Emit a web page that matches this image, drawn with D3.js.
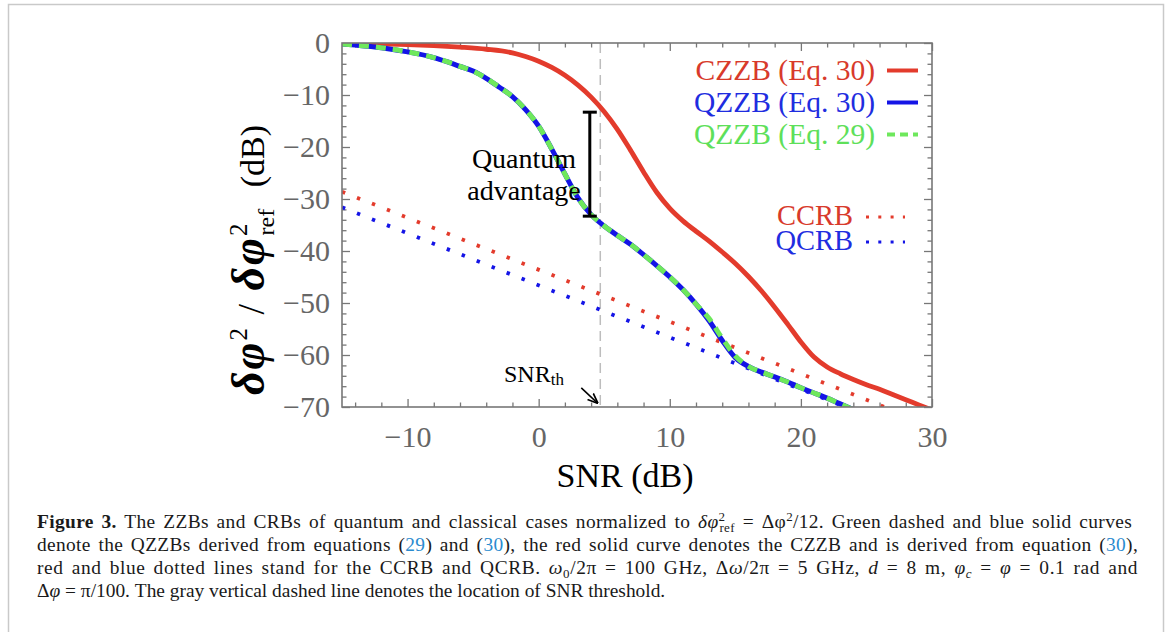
<!DOCTYPE html>
<html><head><meta charset="utf-8">
<script src="https://cdn.jsdelivr.net/npm/d3@7"></script>
<style>body{margin:0;background:#fff} svg{display:block}</style>
</head><body><svg id="c" width="1168" height="632"></svg>
<script>
// ---- data ----
const czzbSNR = [-15,-12,-10,-8,-6,-4,-2,-1,0,1,2,3,4,5,6,7,8,9,10,11,12,13,14,15,16,17,18,19,20,21,22,23,24,25,26,27,28,29,30];
const czzb    = [-0.1,-0.2,-0.3,-0.5,-0.8,-1.2,-1.9,-2.6,-3.5,-4.7,-6.2,-8.1,-10.4,-13.2,-16.6,-20.6,-24.8,-28.7,-31.8,-34.2,-36.2,-38.1,-40.2,-42.4,-44.9,-47.7,-50.8,-54.1,-57.5,-60.4,-62.3,-63.6,-64.7,-65.7,-66.6,-67.6,-68.6,-69.6,-70.6];
const qzzbSNR = [-15,-14,-12,-10,-8,-7,-6,-5,-4,-3,-2,-1,0,1,2,3,4,5,6,7,8,9,10,11,12,13,14,15,16,17,18,19,20,21,22,23,24];
const qzzb30  = [-0.2,-0.4,-0.9,-1.7,-2.8,-3.6,-4.5,-5.4,-6.8,-8.5,-10.3,-12.8,-16.0,-20.4,-25.2,-29.8,-33.0,-35.2,-37.0,-38.7,-40.7,-42.8,-45.0,-47.4,-50.2,-53.4,-57.2,-60.5,-62.2,-63.3,-64.2,-65.2,-66.3,-67.3,-68.3,-69.4,-70.5];
const qzzb29  = [-0.2,-0.4,-0.9,-1.7,-2.8,-3.6,-4.5,-5.4,-6.8,-8.5,-10.3,-12.8,-16.0,-20.4,-25.2,-29.8,-33.0,-35.2,-37.0,-38.7,-40.7,-42.8,-45.0,-47.4,-50.2,-53.0,-56.8,-60.2,-62.2,-63.3,-64.2,-65.2,-66.3,-67.3,-68.3,-69.4,-70.5];
const crbSNR  = [-15, 30];
const ccrb    = [-28.6, -73.6];
const qcrb    = [-31.6, -76.6];
const snrTh   = 4.7;
const advantage = {snr: 3.9, top: -13.3, bottom: -33.3};
const xMajor = [-10, 0, 10, 20, 30];
const xMinor = [-14,-12,-8,-6,-4,-2,2,4,6,8,12,14,16,18,22,24,26,28];
const yMajor = [-70,-60,-50,-40,-30,-20,-10,0];
const yMinor = [-68,-66,-64,-62,-58,-56,-54,-52,-48,-46,-44,-42,-38,-36,-34,-32,-28,-26,-24,-22,-18,-16,-14,-12,-8,-6,-4,-2];
const legendZZB = ["CZZB (Eq. 30)", "QZZB (Eq. 30)", "QZZB (Eq. 29)"];
const legendCRB = ["CCRB", "QCRB"];

// ---- styles ----
const RED = "#e33b2c", BLUE = "#1414e6", GREEN = "#6ee85c";
const SERIF = "'Liberation Serif','Times New Roman',serif";
const svg = d3.select('#c');
svg.append('rect').attr('width',1168).attr('height',632).attr('fill','#fff');
svg.append('rect').attr('x',8.5).attr('y',4.5).attr('width',1155).attr('height',700)
  .attr('fill','none').attr('stroke','#c9c9c9').attr('stroke-width',1.5);

const M = {l:342, r:932, t:43, b:407};
const x = d3.scaleLinear().domain([-15,30]).range([M.l,M.r]);
const y = d3.scaleLinear().domain([-70,0]).range([M.b,M.t]);

svg.append('clipPath').attr('id','clip').append('rect')
  .attr('x',M.l).attr('y',M.t).attr('width',M.r-M.l).attr('height',M.b-M.t);

// axes
function styleAxis(g){
  g.select('.domain').remove();
  g.selectAll('line').attr('stroke','#777').attr('stroke-width',1.3);
  g.selectAll('text').attr('font-family',SERIF).attr('font-size',30).attr('fill','#666');
}
svg.append('g').attr('transform',`translate(0,${M.b})`)
  .call(d3.axisBottom(x).tickValues(xMajor).tickSize(-8).tickPadding(19)).call(styleAxis);
svg.append('g').attr('transform',`translate(0,${M.b})`)
  .call(d3.axisBottom(x).tickValues(xMinor).tickSize(-4.5).tickFormat('')).call(styleAxis);
svg.append('g').attr('transform',`translate(0,${M.t})`)
  .call(d3.axisTop(x).tickValues(xMajor).tickSize(-8).tickFormat('')).call(styleAxis);
svg.append('g').attr('transform',`translate(0,${M.t})`)
  .call(d3.axisTop(x).tickValues(xMinor).tickSize(-4.5).tickFormat('')).call(styleAxis);
svg.append('g').attr('transform',`translate(${M.l},0)`)
  .call(d3.axisLeft(y).tickValues(yMajor).tickSize(-8).tickPadding(12)).call(styleAxis);
svg.append('g').attr('transform',`translate(${M.l},0)`)
  .call(d3.axisLeft(y).tickValues(yMinor).tickSize(-4.5).tickFormat('')).call(styleAxis);
svg.append('g').attr('transform',`translate(${M.r},0)`)
  .call(d3.axisRight(y).tickValues(yMajor).tickSize(-8).tickFormat('')).call(styleAxis);
svg.append('g').attr('transform',`translate(${M.r},0)`)
  .call(d3.axisRight(y).tickValues(yMinor).tickSize(-4.5).tickFormat('')).call(styleAxis);

const plot = svg.append('g').attr('clip-path','url(#clip)');

// threshold line
plot.append('line').attr('x1',x(snrTh)).attr('x2',x(snrTh)).attr('y1',M.t).attr('y2',M.b)
  .attr('stroke','#bdbdbd').attr('stroke-width',1.5).attr('stroke-dasharray','10,6');

const line = (xs, ys) => d3.line().x((d,i)=>x(xs[i])).y(d=>y(d)).curve(d3.curveMonotoneX)(ys);

// CRB dotted lines
plot.append('path').attr('d',line(crbSNR,ccrb)).attr('fill','none').attr('stroke',RED)
  .attr('stroke-width',3.8).attr('stroke-dasharray','3.4,12.7');
plot.append('path').attr('d',line(crbSNR,qcrb)).attr('fill','none').attr('stroke',BLUE)
  .attr('stroke-width',3.8).attr('stroke-dasharray','3.4,12.7');

// ZZB curves
plot.append('path').attr('d',line(czzbSNR,czzb)).attr('fill','none').attr('stroke',RED).attr('stroke-width',4.8);
plot.append('path').attr('d',line(qzzbSNR,qzzb30)).attr('fill','none').attr('stroke',BLUE).attr('stroke-width',5);
plot.append('path').attr('d',line(qzzbSNR,qzzb29)).attr('fill','none').attr('stroke',GREEN)
  .attr('stroke-width',5).attr('stroke-dasharray','10,7');

// frame
svg.append('rect').attr('x',M.l).attr('y',M.t).attr('width',M.r-M.l).attr('height',M.b-M.t)
  .attr('fill','none').attr('stroke','#777').attr('stroke-width',1.6);

// quantum advantage bar
const ax = x(advantage.snr);
const bar = svg.append('g').attr('stroke','#000').attr('stroke-width',3);
bar.append('line').attr('x1',ax).attr('x2',ax).attr('y1',y(advantage.top)).attr('y2',y(advantage.bottom));
bar.append('line').attr('x1',ax-7).attr('x2',ax+7).attr('y1',y(advantage.top)).attr('y2',y(advantage.top));
bar.append('line').attr('x1',ax-7).attr('x2',ax+7).attr('y1',y(advantage.bottom)).attr('y2',y(advantage.bottom));
svg.append('text').attr('x',524).attr('y',168).attr('text-anchor','middle')
  .attr('font-family',SERIF).attr('font-size',28).attr('fill','#000').text('Quantum');
svg.append('text').attr('x',524).attr('y',200).attr('text-anchor','middle')
  .attr('font-family',SERIF).attr('font-size',28).attr('fill','#000').text('advantage');

// SNR_th annotation
const th = svg.append('text').attr('x',504).attr('y',382).attr('font-family',SERIF).attr('font-size',24).attr('fill','#000');
th.append('tspan').text('SNR');
th.append('tspan').attr('font-size',17).attr('dy',3).text('th');
svg.append('defs').append('marker').attr('id','arr').attr('viewBox','0 0 10 10').attr('refX',9).attr('refY',5)
  .attr('markerWidth',7).attr('markerHeight',7).attr('orient','auto')
  .append('path').attr('d','M0,1 L10,5 L0,9').attr('fill','none').attr('stroke','#000').attr('stroke-width',1.6);
svg.append('line').attr('x1',x(snrTh)-19).attr('y1',y(-69.2)-15).attr('x2',x(snrTh)-3).attr('y2',y(-69.2))
  .attr('stroke','#000').attr('stroke-width',1.5).attr('marker-end','url(#arr)');

// legend
const zzbColors = [RED, BLUE, GREEN];
const zzbText = ["#d83a2b", "#1f2de0", "#5ee05a"];
legendZZB.forEach((t,i)=>{
  const yy = 80 + i*32;
  svg.append('text').attr('x',875).attr('y',yy).attr('text-anchor','end')
    .attr('font-family',SERIF).attr('font-size',29.5).attr('fill',zzbText[i]).text(t);
  const l = svg.append('line').attr('x1',887).attr('x2',918).attr('y1',yy-9.5).attr('y2',yy-9.5)
    .attr('stroke',zzbColors[i]).attr('stroke-width',4);
  if(i===2) l.attr('stroke-dasharray','8,5');
});
const crbColors = [RED, BLUE];
const crbText = ["#d83a2b", "#1f2de0"];
legendCRB.forEach((t,i)=>{
  const yy = 225 + i*25;
  svg.append('text').attr('x',853).attr('y',yy).attr('text-anchor','end')
    .attr('font-family',SERIF).attr('font-size',28.5).attr('fill',crbText[i]).text(t);
  svg.append('line').attr('x1',866).attr('x2',905).attr('y1',yy-8).attr('y2',yy-8)
    .attr('stroke',crbColors[i]).attr('stroke-width',3).attr('stroke-dasharray','3,9.3');
});

// axis titles
svg.append('text').attr('x',625).attr('y',487).attr('text-anchor','middle')
  .attr('font-family',SERIF).attr('font-size',34).attr('fill','#000').text('SNR (dB)');
const yt = svg.append('text').attr('transform','translate(264,395) rotate(-90)').attr('text-anchor','start')
  .attr('font-family',SERIF).attr('font-size',38).attr('fill','#000');
const gaps = [];
yt.append('tspan').attr('font-weight','bold').attr('font-style','italic').attr('font-size',46).attr('letter-spacing',2).text('δφ');
yt.append('tspan').attr('font-size',25).attr('dy',-17).attr('dx',0).text('2');
gaps.push(yt.append('tspan').attr('dy',17).attr('dx',2).text('/'));
gaps.push(yt.append('tspan').attr('font-weight','bold').attr('font-style','italic').attr('font-size',46).attr('letter-spacing',2).attr('dx',2).text('δφ'));
yt.append('tspan').attr('font-size',25).attr('dy',-17).attr('dx',0).text('2');
yt.append('tspan').attr('font-size',24).attr('dx',-12).attr('dy',27).text('ref');
gaps.push(yt.append('tspan').attr('dy',-10).attr('dx',10).attr('font-size',34).text('(dB)'));
{
  const nat = yt.node().getComputedTextLength();
  const target = 268;
  if (nat < target) {
    const extra = (target-nat)/gaps.length;
    gaps.forEach(s=>s.attr('dx', (+s.attr('dx') + extra).toFixed(2)));
  }
}

// caption
const CAP = "#1a1a1a", LINK = "#2a8bcf";
function capLine(yy, parts, len){
  const t = svg.append('text').attr('x',37).attr('y',yy).attr('font-family',SERIF).attr('font-size',19.4).attr('fill',CAP);
  parts.forEach(p=>{
    const s = t.append('tspan').text(p.t);
    if(p.b) s.attr('font-weight','bold');
    if(p.i) s.attr('font-style','italic');
    if(p.c) s.attr('fill',p.c);
    if(p.fs) s.attr('font-size',p.fs);
    if(p.dy) s.attr('dy',p.dy);
    if(p.dx) s.attr('dx',p.dx);
  });
  if(len){
    const nat = t.node().getComputedTextLength();
    const txt = parts.map(p=>p.t).join('');
    const spaces = txt.split(' ').length - 1;
    const gap = len - nat;
    const ls = (gap*0.45)/txt.length;
    t.attr('letter-spacing', ls.toFixed(3));
    t.attr('word-spacing', ((gap*0.55)/spaces).toFixed(3));
  }
}
capLine(528,[{t:'Figure 3.',b:1},{t:' The ZZBs and CRBs of quantum and classical cases normalized to '},{t:'δφ',i:1},
  {t:'2',fs:13,dy:-7},{t:'ref',fs:13,dx:-6,dy:11},{t:' = Δφ',dy:-4},{t:'2',fs:13,dy:-7},{t:'/12. Green dashed and blue solid curves',dy:7}],1101);
capLine(551,[{t:'denote the QZZBs derived from equations ('},{t:'29',c:LINK},{t:') and ('},{t:'30',c:LINK},
  {t:'), the red solid curve denotes the CZZB and is derived from equation ('},{t:'30',c:LINK},{t:'),'}],1101);
capLine(574,[{t:'red and blue dotted lines stand for the CCRB and QCRB. '},{t:'ω',i:1},{t:'0',fs:13,dy:4},{t:'/2π = 100 GHz, Δ',dy:-4},
  {t:'ω',i:1},{t:'/2π = 5 GHz, '},{t:'d',i:1},{t:' = 8 m, '},{t:'φ',i:1},{t:'c',i:1,fs:13,dy:4},{t:' = ',dy:-4},{t:'φ',i:1},{t:' = 0.1 rad and'}],1101);
capLine(597,[{t:'Δ'},{t:'φ',i:1},{t:' = π/100. The gray vertical dashed line denotes the location of SNR threshold.'}]);
</script></body></html>
